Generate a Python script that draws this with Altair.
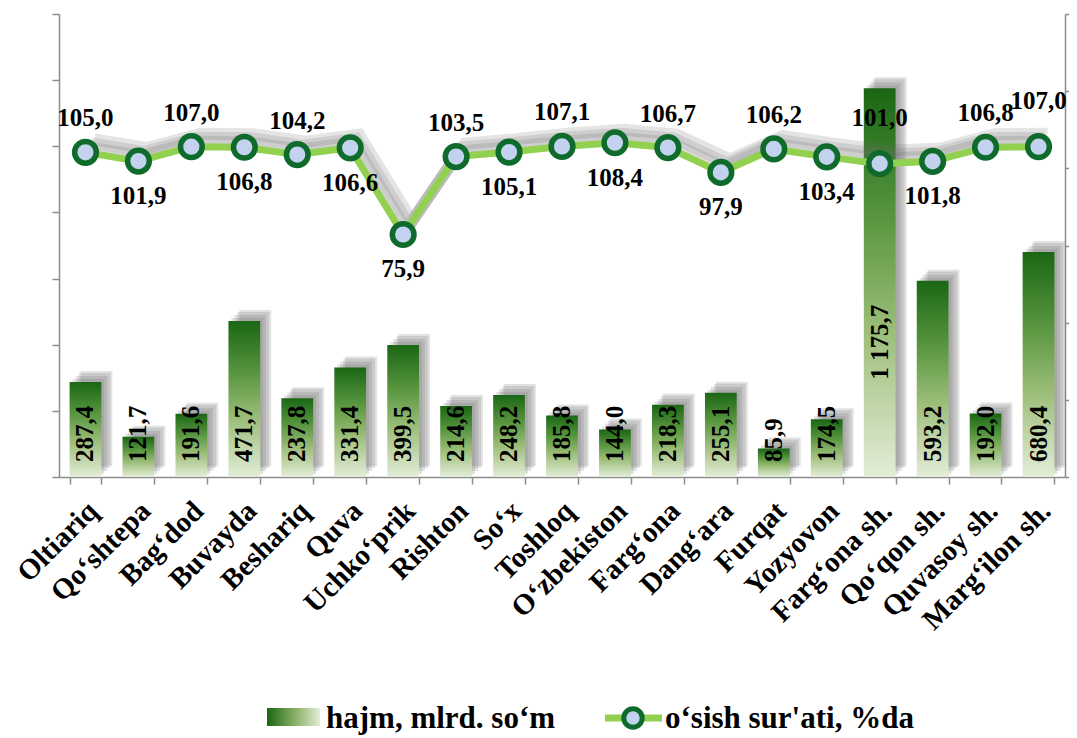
import altair as alt
import pandas as pd

categories = ["Oltiariq", "Qo‘shtepa", "Bag‘dod", "Buvayda", "Beshariq", "Quva",
              "Uchko‘prik", "Rishton", "So‘x", "Toshloq", "O‘zbekiston", "Farg‘ona",
              "Dang‘ara", "Furqat", "Yozyovon", "Farg‘ona sh.", "Qo‘qon sh.",
              "Quvasoy sh.", "Marg‘ilon sh."]
volume = [287.4, 121.7, 191.6, 471.7, 237.8, 331.4, 399.5, 214.6, 248.2, 185.8,
          144.0, 218.3, 255.1, 85.9, 174.5, 1175.7, 593.2, 192.0, 680.4]
growth = [105.0, 101.9, 107.0, 106.8, 104.2, 106.6, 75.9, 103.5, 105.1, 107.1,
          108.4, 106.7, 97.9, 106.2, 103.4, 101.0, 101.8, 106.8, 107.0]
legend_labels = ["hajm, mlrd. so‘m", "o‘sish sur'ati, %da"]


def fmt_vol(v):
    return f"{v:,.1f}".replace(",", " ").replace(".", ",")


below_idx = {1, 3, 5, 6, 8, 10, 12, 14, 16}
high_idx = {15, 18}


def side_of(i):
    if i in below_idx:
        return "below"
    if i in high_idx:
        return "high"
    return "above"


df = pd.DataFrame({
    "cat": categories,
    "volume": volume,
    "growth": growth,
    "vol_label": [fmt_vol(v) for v in volume],
    "gr_label": [f"{g:.1f}".replace(".", ",") for g in growth],
    "side": [side_of(i) for i in range(len(categories))],
})

W, H = 1006, 463
FONT = "Liberation Serif"
GRAY = "#8c8c8c"
LINE_GREEN = "#92d050"
DARK_GREEN = "#0e6b2c"
POINT_FILL = "#c3d3ef"

x_enc = alt.X(
    "cat:N", sort=categories,
    scale=alt.Scale(paddingInner=0.4, paddingOuter=0.2),
    axis=alt.Axis(title=None, labelAngle=-45, labelAlign="right", labelBaseline="middle",
                  labelFont=FONT, labelFontWeight="bold", labelFontSize=29,
                  labelColor="black", tickBand="extent", labelPadding=22,
                  labelOffset=7, labelOverlap=False, labelLimit=400),
)

left_scale = alt.Scale(domain=[0, 1400], nice=False, zero=True)
left_axis = alt.Axis(orient="left", values=list(range(0, 1401, 200)),
                     labels=False, title=None, grid=False)
right_lo, right_hi = -10, 154
right_scale = alt.Scale(domain=[right_lo, right_hi], nice=False, zero=False)
right_ticks = [right_lo + k * (right_hi - right_lo) / 6 for k in range(7)]
right_axis = alt.Axis(orient="right", values=right_ticks, labels=False, title=None,
                      grid=False)

y_left = alt.Y("volume:Q", scale=left_scale, axis=left_axis)
y_right = alt.Y("growth:Q", scale=right_scale, axis=right_axis)

bar_grad = alt.Gradient(
    gradient="linear", x1=0, x2=0, y1=0, y2=1,
    stops=[alt.GradientStop(color="#1a6614", offset=0),
           alt.GradientStop(color="#5c9842", offset=0.35),
           alt.GradientStop(color="#9bbd78", offset=0.62),
           alt.GradientStop(color="#e3edd8", offset=1)],
)
legend_grad = alt.Gradient(
    gradient="linear", x1=0, x2=1, y1=0, y2=0,
    stops=[alt.GradientStop(color="#1a6614", offset=0),
           alt.GradientStop(color="#8db26a", offset=0.55),
           alt.GradientStop(color="#e3edd8", offset=1)],
)

base = alt.Chart(df)

bar_shadows = [
    base.mark_bar(color="#6e6e6e", opacity=0.2, xOffset=dx, yOffset=dy, y2Offset=dy)
    .encode(x=x_enc, y=y_left)
    for dx, dy in [(3, -3), (6, -6), (9, -9), (11, -11)]
]
bars = base.mark_bar(color=bar_grad).encode(x=x_enc, y=y_left)
bar_text = base.transform_calculate(
    lab_y="datum.volume > 1000 ? datum.volume * 0.25 : 45"
).mark_text(angle=270, align="left", baseline="middle", font=FONT,
            fontSize=25, fontWeight="bold", color="black").encode(
    x=x_enc, y=alt.Y("lab_y:Q", scale=left_scale, axis=left_axis), text="vol_label:N")

left = alt.layer(*bar_shadows, bars, bar_text)

line_shadows = [
    base.mark_line(color="#6a6a6a", opacity=0.18, strokeWidth=12, xOffset=dx, yOffset=dy)
    .encode(x=x_enc, y=y_right)
    for dx, dy in [(3, -5), (6, -9), (9, -13)]
]
line = base.mark_line(color=LINE_GREEN, strokeWidth=7).encode(x=x_enc, y=y_right)
points = base.mark_circle(fill=POINT_FILL, stroke=DARK_GREEN, strokeWidth=5.5,
                          size=470, opacity=1).encode(x=x_enc, y=y_right)


def line_labels(side, dy):
    return base.transform_filter(f"datum.side == '{side}'").mark_text(
        baseline="alphabetic", dy=dy, font=FONT, fontSize=25, fontWeight="bold",
        color="black").encode(x=x_enc, y=y_right, text="gr_label:N")


right = alt.layer(*line_shadows, line, points,
                  line_labels("above", -26), line_labels("high", -38),
                  line_labels("below", 43))

leg1 = alt.Chart(pd.DataFrame({"label": [legend_labels[0]]}))
leg2 = alt.Chart(pd.DataFrame({"label": [legend_labels[1]]}))

sw = leg1.mark_rect(color=legend_grad).encode(
    x=alt.value(208), x2=alt.value(261), y=alt.value(694), y2=alt.value(712))
t1 = leg1.mark_text(align="left", baseline="alphabetic", font=FONT, fontSize=31,
                    fontWeight="bold", color="black").encode(
    x=alt.value(267), y=alt.value(714), text="label:N")
lr = leg2.mark_rule(color=LINE_GREEN, strokeWidth=7).encode(
    x=alt.value(546), x2=alt.value(603), y=alt.value(704))
lc = leg2.mark_circle(fill=POINT_FILL, stroke=DARK_GREEN, strokeWidth=5,
                      size=340, opacity=1).encode(x=alt.value(574), y=alt.value(704))
t2 = leg2.mark_text(align="left", baseline="alphabetic", font=FONT, fontSize=31,
                    fontWeight="bold", color="black").encode(
    x=alt.value(606), y=alt.value(714), text="label:N")

chart = alt.layer(left, right, sw, t1, lr, lc, t2).resolve_scale(
    y="independent"
).properties(
    width=W, height=H,
    autosize=alt.AutoSizeParams(type="none"),
    padding={"left": 51, "top": 6, "right": 4, "bottom": 259},
).configure_view(stroke=None).configure_axis(
    domainColor=GRAY, tickColor=GRAY, domainWidth=1.5, tickWidth=1.5, tickSize=7,
    grid=False,
)

chart.save("out.html", embed_options={"renderer": "svg", "actions": False})
